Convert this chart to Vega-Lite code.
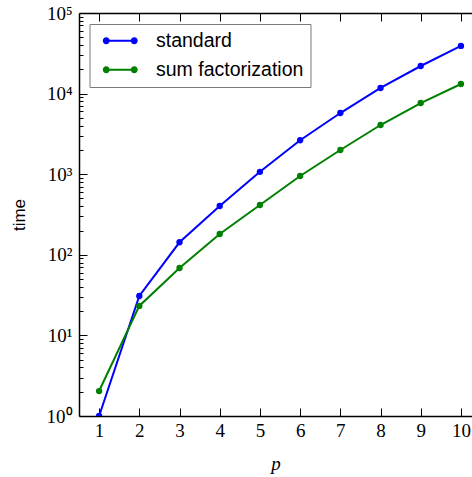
{
  "$schema": "https://vega.github.io/schema/vega-lite/v6.json",
  "autosize": "none",
  "width": 393,
  "height": 403,
  "padding": {"left": 79, "top": 13, "right": 0, "bottom": 61},
  "background": "white",
  "config": {
    "view": {"stroke": null},
    "axis": {"domainColor": "black", "domainWidth": 1.5, "tickColor": "black", "tickWidth": 1, "labelColor": "black", "titleColor": "black", "grid": false}
  },
  "data": {"values": [
    {"p": 1, "time": 1.0, "method": "standard"},
    {"p": 2, "time": 30.8, "method": "standard"},
    {"p": 3, "time": 143, "method": "standard"},
    {"p": 4, "time": 403, "method": "standard"},
    {"p": 5, "time": 1070, "method": "standard"},
    {"p": 6, "time": 2640, "method": "standard"},
    {"p": 7, "time": 5740, "method": "standard"},
    {"p": 8, "time": 11740, "method": "standard"},
    {"p": 9, "time": 22000, "method": "standard"},
    {"p": 10, "time": 39000, "method": "standard"},
    {"p": 1, "time": 2.04, "method": "sum factorization"},
    {"p": 2, "time": 23.2, "method": "sum factorization"},
    {"p": 3, "time": 68.6, "method": "sum factorization"},
    {"p": 4, "time": 181, "method": "sum factorization"},
    {"p": 5, "time": 415, "method": "sum factorization"},
    {"p": 6, "time": 950, "method": "sum factorization"},
    {"p": 7, "time": 1995, "method": "sum factorization"},
    {"p": 8, "time": 4075, "method": "sum factorization"},
    {"p": 9, "time": 7640, "method": "sum factorization"},
    {"p": 10, "time": 13150, "method": "sum factorization"}
  ]},
  "encoding": {
    "y": {
      "field": "time", "type": "quantitative",
      "scale": {"type": "log", "domain": [1, 100000], "nice": false},
      "axis": {
        "title": "time", "titleFont": "Liberation Sans", "titleFontSize": 17, "titleFontWeight": "normal", "titlePadding": 18,
        "values": [1,2,3,4,5,6,7,8,9,10,20,30,40,50,60,70,80,90,100,200,300,400,500,600,700,800,900,1000,2000,3000,4000,5000,6000,7000,8000,9000,10000,20000,30000,40000,50000,60000,70000,80000,90000,100000],
        "labelExpr": "abs(log(datum.value)/LN10 - round(log(datum.value)/LN10)) < 1e-6 ? '10' + ['⁰','¹','²','³','⁴','⁵'][round(log(datum.value)/LN10)] : ''",
        "labelFont": "Liberation Serif", "labelFontSize": 19, "labelPadding": 15,
        "tickSize": {"condition": {"test": "abs(log(datum.value)/LN10 - round(log(datum.value)/LN10)) < 1e-6", "value": -8}, "value": -4}
      }
    },
    "color": {
      "field": "method", "type": "nominal",
      "scale": {"domain": ["standard", "sum factorization"], "range": ["#0000ff", "#008000"]},
      "legend": {
        "title": null, "orient": "none", "legendX": 10.5, "legendY": 11,
        "strokeColor": "#7a7a7a", "fillColor": "white", "padding": 7,
        "symbolType": "M0,-0.5 A0.5,0.5 0 1,1 0,0.5 A0.5,0.5 0 1,1 0,-0.5 Z M0,-0.15 L4,-0.15 L4,0.15 L0,0.15 Z M4,-0.5 A0.5,0.5 0 1,1 4,0.5 A0.5,0.5 0 1,1 4,-0.5 Z",
        "symbolSize": 196, "symbolStrokeWidth": 0, "symbolOpacity": 1,
        "labelFont": "Liberation Sans", "labelFontSize": 19.5, "labelOffset": 40, "labelColor": "black",
        "rowPadding": 8
      }
    }
  },
  "layer": [
    {
      "mark": {"type": "line", "strokeWidth": 2, "clip": true},
      "encoding": {
        "x": {
          "field": "p", "type": "quantitative",
          "scale": {"domain": [0.5, 10.275], "nice": false, "zero": false},
          "axis": {
            "orient": "bottom", "title": "p", "titleFont": "Liberation Serif", "titleFontStyle": "italic", "titleFontWeight": "normal", "titleFontSize": 19, "titlePadding": 14,
            "values": [1,2,3,4,5,6,7,8,9,10], "format": "d",
            "labelFont": "Liberation Serif", "labelFontSize": 19, "labelPadding": 13, "tickSize": -8
          }
        }
      }
    },
    {
      "mark": {"type": "point", "filled": true, "size": 40, "opacity": 1, "clip": true},
      "encoding": {
        "x": {
          "field": "p", "type": "quantitative",
          "axis": {"orient": "top", "title": null, "labels": false, "values": [1,2,3,4,5,6,7,8,9,10], "tickSize": -8}
        }
      }
    }
  ],
  "resolve": {"axis": {"x": "independent"}}
}
